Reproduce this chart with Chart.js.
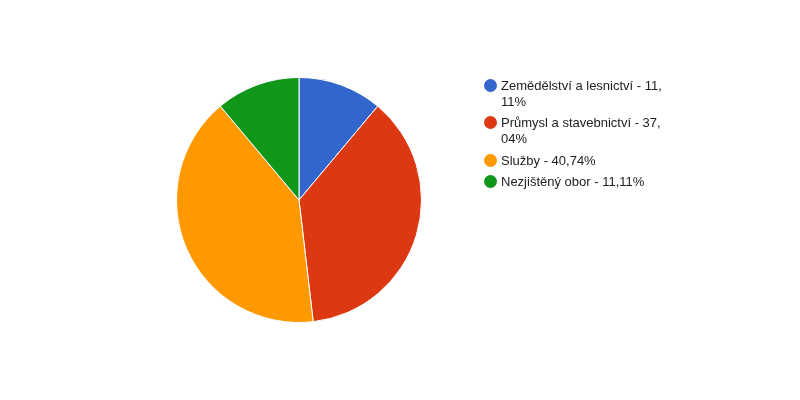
<!DOCTYPE html>
<html>
<head>
<meta charset="utf-8">
<script src="https://cdn.jsdelivr.net/npm/chart.js@4"></script>
<style>
  html, body { margin: 0; padding: 0; background: #fff; }
  #wrap { position: relative; width: 800px; height: 400px; }
  #legend {
    position: absolute; left: 484px; top: 77.5px; width: 185px;
    font-family: "Liberation Sans", Arial, sans-serif; font-size: 13px; color: #222;
  }
  .item { position: relative; padding-left: 17px; line-height: 16px; margin-bottom: 5.5px; width: 165px; }
  .dot { position: absolute; left: 0; top: 1px; width: 13px; height: 13px; border-radius: 50%; }
</style>
</head>
<body>
<div id="wrap">
  <canvas id="pie" width="800" height="400"></canvas>
  <div id="legend"></div>
</div>
<script>
// obory a jejich podíly (%)
const categories = ["Zemědělství a lesnictví", "Průmysl a stavebnictví", "Služby", "Nezjištěný obor"];
const shares = [11.11, 37.04, 40.74, 11.11];
const colors = ["#3366cc", "#dc3912", "#ff9900", "#109618"];

// legenda jako html, aby se text zalomil za čárkou jako v originále
const legend = document.getElementById("legend");
for (let i = 0; i < categories.length; i++) {
    const val = shares[i].toFixed(2).replace(".", ",<wbr>");
    const div = document.createElement("div");
    div.className = "item";
    div.innerHTML = '<span class="dot" style="background:' + colors[i] + '"></span>' +
        categories[i] + " - " + val + "%";
    legend.appendChild(div);
}

const ctx = document.getElementById("pie").getContext("2d");
new Chart(ctx, {
    type: "pie",
    data: {
        labels: categories,
        datasets: [{
            data: shares,
            backgroundColor: colors,
            borderColor: "#ffffff",
            borderWidth: 1
        }]
    },
    options: {
        responsive: false,
        animation: false,
        layout: {
            padding: { left: 176, right: 378, top: 77, bottom: 77 }
        },
        plugins: {
            legend: { display: false },
            tooltip: { enabled: false }
        }
    }
});
</script>
</body>
</html>
